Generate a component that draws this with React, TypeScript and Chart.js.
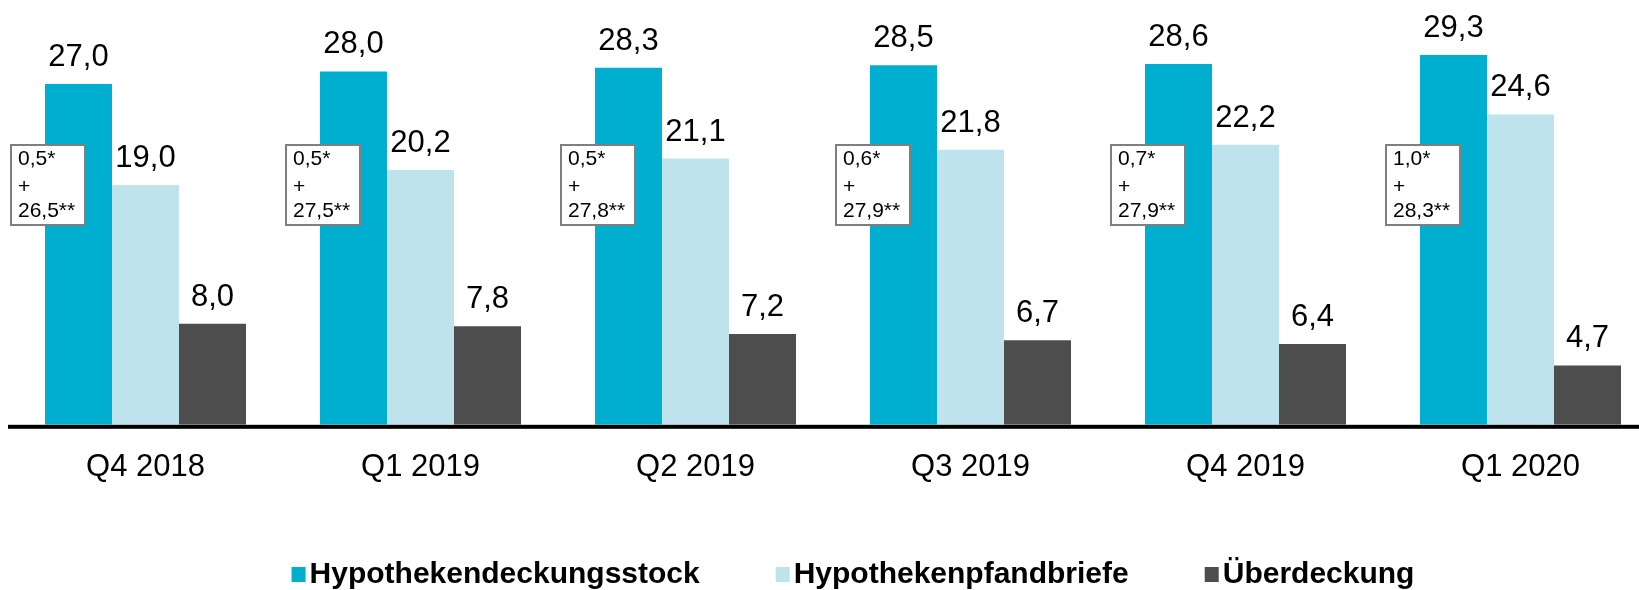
import React, { useEffect, useRef } from "react";
import { Chart, registerables } from "chart.js";

Chart.register(...registerables);

const categories = ["Q4 2018", "Q1 2019", "Q2 2019", "Q3 2019", "Q4 2019", "Q1 2020"];
const seriesNames = ["Hypothekendeckungsstock", "Hypothekenpfandbriefe", "Überdeckung"];
const deckungsstock = [27.0, 28.0, 28.3, 28.5, 28.6, 29.3];
const pfandbriefe = [19.0, 20.2, 21.1, 21.8, 22.2, 24.6];
const ueberdeckung = [8.0, 7.8, 7.2, 6.7, 6.4, 4.7];
const boxPartA = [0.5, 0.5, 0.5, 0.6, 0.7, 1.0];
const boxPartB = [26.5, 27.5, 27.8, 27.9, 27.9, 28.3];
const colors = ["#00AFCF", "#BFE3EC", "#4D4D4D"];

const FONT = "'Liberation Sans', Arial, Helvetica, sans-serif";
const fmt = (v: number) => v.toFixed(1).replace(".", ",");

const overlayPlugin = {
  id: "overlay",
  afterDatasetsDraw(chart: any) {
    const ctx = chart.ctx;
    const area = chart.chartArea;
    ctx.save();
    // axis line
    ctx.fillStyle = "#000";
    ctx.fillRect(0, area.bottom, chart.width, 4);

    // value labels
    ctx.font = `31px ${FONT}`;
    ctx.textAlign = "center";
    ctx.textBaseline = "alphabetic";
    chart.data.datasets.forEach((ds: any, di: number) => {
      const meta = chart.getDatasetMeta(di);
      meta.data.forEach((el: any, i: number) => {
        ctx.fillStyle = "#000";
        ctx.fillText(fmt(ds.data[i]), el.x, el.y - 18);
      });
    });

    // annotation boxes
    const meta0 = chart.getDatasetMeta(0);
    meta0.data.forEach((el: any, i: number) => {
      const left = el.x - el.width / 2 - 35;
      const top = 136;
      const w = 76;
      const h = 82;
      ctx.fillStyle = "#fff";
      ctx.fillRect(left, top, w, h);
      ctx.strokeStyle = "#7F7F7F";
      ctx.lineWidth = 2;
      ctx.strokeRect(left + 1, top + 1, w - 2, h - 2);
      ctx.fillStyle = "#000";
      ctx.font = `21px ${FONT}`;
      ctx.textAlign = "left";
      ctx.textBaseline = "middle";
      ctx.fillText(fmt(boxPartA[i]) + "*", left + 8, top + 15);
      ctx.fillText("+", left + 8, top + 43);
      ctx.fillText(fmt(boxPartB[i]) + "**", left + 8, top + 67);
    });

    // legend
    ctx.font = `bold 30px ${FONT}`;
    ctx.textBaseline = "alphabetic";
    ctx.textAlign = "left";
    const box = 14;
    const gap = 4;
    const spacing = 76;
    const widths = seriesNames.map((n) => box + gap + ctx.measureText(n).width);
    const total = widths.reduce((a, b) => a + b, 0) + spacing * (widths.length - 1);
    let x = (area.left + area.right) / 2 + 20 - total / 2;
    const baseline = 575;
    seriesNames.forEach((n, i) => {
      ctx.fillStyle = colors[i];
      ctx.fillRect(x, baseline - 16, box, 15);
      ctx.fillStyle = "#000";
      ctx.fillText(n, x + box + gap, baseline);
      x += widths[i] + spacing;
    });
    ctx.restore();
  },
};

export default function App() {
  const ref = useRef<HTMLCanvasElement>(null);
  useEffect(() => {
    if (!ref.current) return;
    const chart = new Chart(ref.current, {
      type: "bar",
      data: {
        labels: categories,
        datasets: [
          { label: seriesNames[0], data: deckungsstock, backgroundColor: colors[0], borderWidth: 0, categoryPercentage: 0.731, barPercentage: 1 },
          { label: seriesNames[1], data: pfandbriefe, backgroundColor: colors[1], borderWidth: 0, categoryPercentage: 0.731, barPercentage: 1 },
          { label: seriesNames[2], data: ueberdeckung, backgroundColor: colors[2], borderWidth: 0, categoryPercentage: 0.731, barPercentage: 1 },
        ],
      },
      options: {
        animation: false,
        responsive: false,
        devicePixelRatio: 1,
        layout: { padding: { top: 13, bottom: 80, left: 0, right: 0 } },
        plugins: { legend: { display: false }, tooltip: { enabled: false } },
        scales: {
          x: {
            grid: { display: false, drawTicks: false },
            border: { display: false },
            ticks: { color: "#000", font: { family: FONT, size: 31 }, padding: 24, maxRotation: 0, autoSkip: false },
          },
          y: { display: false, min: 0, max: 32 },
        },
      },
      plugins: [overlayPlugin],
    });
    return () => chart.destroy();
  }, []);
  return (
    <div style={{ position: "fixed", left: 8, top: 8, width: 1631, height: 582, overflow: "hidden", background: "#fff" }}>
      <canvas ref={ref} width={1650} height={582} style={{ display: "block" }} />
    </div>
  );
}
